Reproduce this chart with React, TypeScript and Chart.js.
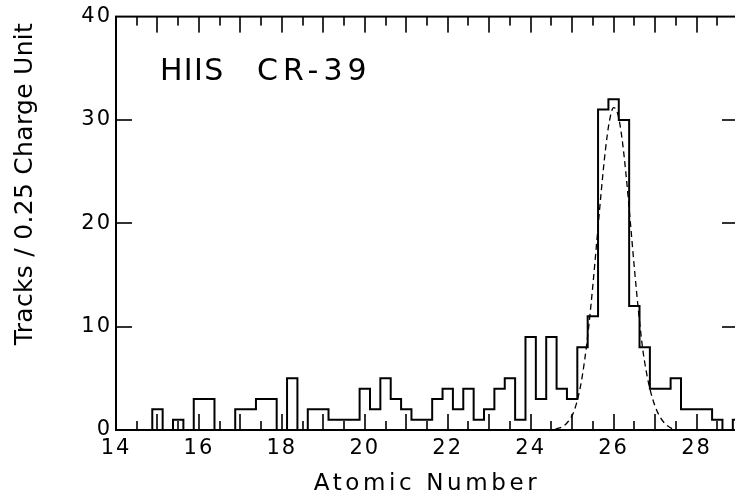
import React, { useEffect, useRef } from "react";
import { Chart, registerables } from "chart.js";

Chart.register(...registerables);

const binCenters = [
  14, 14.25, 14.5, 14.75, 15, 15.25, 15.5, 15.75, 16, 16.25, 16.5, 16.75,
  17, 17.25, 17.5, 17.75, 18, 18.25, 18.5, 18.75, 19, 19.25, 19.5, 19.75,
  20, 20.25, 20.5, 20.75, 21, 21.25, 21.5, 21.75, 22, 22.25, 22.5, 22.75,
  23, 23.25, 23.5, 23.75, 24, 24.25, 24.5, 24.75, 25, 25.25, 25.5, 25.75,
  26, 26.25, 26.5, 26.75, 27, 27.25, 27.5, 27.75, 28, 28.25, 28.5, 28.75, 29,
];
const trackCounts = [
  0, 0, 0, 0, 2, 0, 1, 0, 3, 3, 0, 0,
  2, 2, 3, 3, 0, 5, 0, 2, 2, 1, 1, 1,
  4, 2, 5, 3, 2, 1, 1, 3, 4, 2, 4, 1,
  2, 4, 5, 1, 9, 3, 9, 4, 3, 8, 11, 31,
  32, 30, 12, 8, 4, 4, 5, 2, 2, 2, 1, 0, 1,
];

const fitZ = [
  24.6, 24.7, 24.8, 24.9, 25.0, 25.1, 25.2, 25.3, 25.4, 25.5, 25.6, 25.7,
  25.8, 25.9, 26.0, 26.1, 26.2, 26.3, 26.4, 26.5, 26.6, 26.7, 26.8, 26.9,
  27.0, 27.1, 27.2, 27.3, 27.4, 27.5,
];
const fitTracks = [
  0.1, 0.2, 0.4, 0.8, 1.4, 2.5, 4.2, 6.7, 10.0, 14.0, 18.5, 23.0,
  27.0, 29.9, 31.2, 30.6, 28.3, 24.7, 20.3, 15.7, 11.5, 7.9, 5.4, 3.6,
  2.3, 1.4, 0.8, 0.4, 0.15, 0.05,
];

const xTickLabels = [14, 16, 18, 20, 22, 24, 26, 28];
const yTickLabels = [0, 10, 20, 30, 40];
const xTickMarks = [
  14, 14.5, 15, 15.5, 16, 16.5, 17, 17.5, 18, 18.5, 19, 19.5, 20, 20.5, 21,
  21.5, 22, 22.5, 23, 23.5, 24, 24.5, 25, 25.5, 26, 26.5, 27, 27.5, 28, 28.5, 29,
];
const yTickMarks = [10, 20, 30];

const panelLabel = "HIIS";
const detectorLabel = "CR-39";
const xTitle = "Atomic Number";
const yTitle = "Tracks / 0.25 Charge Unit";

const FONT = '"DejaVu Sans", sans-serif';

const framePlugin = {
  id: "frameAndText",
  beforeDraw(chart: any) {
    (chart.ctx as any).letterSpacing = "2px";
  },
  afterDraw(chart: any) {
    const ctx = chart.ctx as any;
    const a = chart.chartArea;
    const xs = chart.scales.x;
    const ys = chart.scales.y;
    ctx.save();
    ctx.letterSpacing = "0px";
    ctx.setLineDash([]);
    ctx.globalAlpha = 1;
    ctx.strokeStyle = "#000";
    ctx.fillStyle = "#000";
    ctx.lineWidth = 2;
    ctx.strokeRect(a.left, a.top, a.right - a.left, a.bottom - a.top);
    for (let i = 0; i < xTickMarks.length; i++) {
      const v = xTickMarks[i];
      const px = Math.round(xs.getPixelForValue(v));
      const len = Math.abs(v - Math.round(v)) < 1e-6 ? 16 : 9;
      ctx.fillRect(px - 0.8, a.bottom - len, 1.6, len);
      ctx.fillRect(px - 0.8, a.top, 1.6, len);
    }
    for (let i = 0; i < yTickMarks.length; i++) {
      const py = Math.round(ys.getPixelForValue(yTickMarks[i]));
      ctx.fillRect(a.left, py - 0.8, 16, 1.6);
      ctx.fillRect(a.right - 16, py - 0.8, 16, 1.6);
    }

    ctx.textBaseline = "alphabetic";
    ctx.textAlign = "left";
    ctx.font = `30px ${FONT}`;
    ctx.letterSpacing = "1.3px";
    ctx.fillText(panelLabel, a.left + 44, a.top + 63);
    ctx.letterSpacing = "5px";
    ctx.fillText(detectorLabel, a.left + 141, a.top + 63);

    ctx.textAlign = "center";
    ctx.font = `23px ${FONT}`;
    ctx.letterSpacing = "3.6px";
    ctx.fillText(xTitle, 427, 490);

    ctx.save();
    ctx.translate(32, 184);
    ctx.rotate(-Math.PI / 2);
    ctx.font = `25px ${FONT}`;
    ctx.letterSpacing = "0.3px";
    ctx.textAlign = "center";
    ctx.fillText(yTitle, 0, 0);
    ctx.restore();

    ctx.restore();
    ctx.letterSpacing = "0px";
  },
};

export default function App() {
  const ref = useRef<HTMLCanvasElement | null>(null);

  useEffect(() => {
    if (!ref.current) return;
    const chart = new Chart(ref.current, {
      type: "line",
      data: {
        datasets: [
          {
            data: binCenters.map((x, i) => ({ x, y: trackCounts[i] })),
            stepped: "middle",
            borderColor: "#000",
            borderWidth: 2,
            pointRadius: 0,
            fill: false,
          },
          {
            data: fitZ.map((x, i) => ({ x, y: fitTracks[i] })),
            borderColor: "#000",
            borderWidth: 1.3,
            borderDash: [6, 4],
            pointRadius: 0,
            cubicInterpolationMode: "monotone",
            fill: false,
          },
        ],
      },
      options: {
        animation: false,
        responsive: false,
        layout: { padding: { left: 0, right: 22, top: 14, bottom: 0 } },
        plugins: {
          legend: { display: false },
          tooltip: { enabled: false },
        },
        scales: {
          x: {
            type: "linear",
            min: 14,
            max: 29,
            grid: { display: false, drawTicks: false },
            border: { display: false },
            afterBuildTicks: (s: any) => {
              s.ticks = xTickLabels.map((v) => ({ value: v }));
            },
            afterFit: (s: any) => {
              s.height = 67;
            },
            ticks: {
              color: "#000",
              font: { size: 21, family: FONT },
              padding: 6,
              maxRotation: 0,
              autoSkip: false,
            },
          },
          y: {
            type: "linear",
            min: 0,
            max: 40,
            grid: { display: false, drawTicks: false },
            border: { display: false },
            afterBuildTicks: (s: any) => {
              s.ticks = yTickLabels.map((v) => ({ value: v }));
            },
            afterFit: (s: any) => {
              s.width = 116;
            },
            ticks: {
              color: "#000",
              font: { size: 21, family: FONT },
              padding: 4,
            },
          },
        },
      },
      plugins: [framePlugin],
    } as any);
    return () => chart.destroy();
  }, []);

  return (
    <div
      style={{
        position: "fixed",
        left: 0,
        top: 0,
        width: 735,
        height: 497,
        overflow: "hidden",
        background: "#fff",
      }}
    >
      <canvas
        ref={ref}
        width={760}
        height={497}
        style={{ display: "block", width: 760, height: 497 }}
      />
    </div>
  );
}
